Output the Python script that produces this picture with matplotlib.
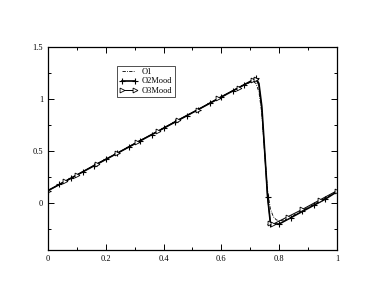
import matplotlib.pyplot as plt
from matplotlib.ticker import MultipleLocator, FormatStrFormatter

plt.rcParams['font.family'] = ['Liberation Serif', 'DejaVu Serif']

# O1 (dash-dot, smoother near the jump)
x_o1 = [0.0, 0.1, 0.2, 0.3, 0.4, 0.5, 0.6, 0.68, 0.70, 0.71, 0.72, 0.73, 0.74, 0.75, 0.76,
        0.77, 0.78, 0.79, 0.80, 0.82, 0.9, 1.0]
y_o1 = [0.12, 0.27, 0.42, 0.57, 0.72, 0.87, 1.02, 1.14, 1.16, 1.17, 1.15, 1.07, 0.86, 0.48,
        0.12, -0.06, -0.13, -0.16, -0.17, -0.16, -0.04, 0.11]

# O2Mood (solid with + markers)
x_o2 = [0.0, 0.04, 0.08, 0.12, 0.16, 0.20, 0.24, 0.28, 0.32, 0.36, 0.40, 0.44, 0.48, 0.52,
        0.56, 0.60, 0.64, 0.68, 0.72, 0.73, 0.74, 0.75, 0.76, 0.77, 0.80, 0.84, 0.88, 0.92,
        0.96, 1.0]
y_o2 = [0.12, 0.18, 0.24, 0.30, 0.36, 0.42, 0.48, 0.54, 0.60, 0.66, 0.72, 0.78, 0.84, 0.90,
        0.96, 1.02, 1.08, 1.14, 1.20, 1.15, 0.93, 0.50, 0.06, -0.20, -0.20, -0.14, -0.08,
        -0.02, 0.04, 0.11]

# O3Mood (thin solid with triangle markers)
x_o3 = [0.0, 0.06, 0.10, 0.17, 0.24, 0.31, 0.38, 0.45, 0.52, 0.59, 0.66, 0.71, 0.72, 0.73,
        0.74, 0.75, 0.76, 0.77, 0.78, 0.83, 0.88, 0.94, 1.0]
y_o3 = [0.12, 0.21, 0.27, 0.38, 0.48, 0.59, 0.69, 0.80, 0.90, 1.01, 1.11, 1.18, 1.19, 1.13,
        0.90, 0.48, 0.05, -0.19, -0.20, -0.13, -0.06, 0.03, 0.12]

# markers are not drawn on the interior points of the jump
o2_marks = [i for i in range(len(x_o2)) if i not in (19, 20, 21)]
o3_marks = [i for i in range(len(x_o3)) if i not in (13, 14, 15, 16)]

fig = plt.figure(figsize=(3.74, 2.89), dpi=100)
ax = fig.add_axes([0.128, 0.135, 0.773, 0.702])

ax.plot(x_o1, y_o1, color='black', lw=0.6, ls=(0, (4, 1.5, 1, 1.5)), label='O1')
ax.plot(x_o2, y_o2, color='black', lw=1.2, marker='+', ms=5, mew=0.8, markevery=o2_marks,
        label='O2Mood')
ax.plot(x_o3, y_o3, color='black', lw=0.7, marker='>', ms=3.5, mew=0.6, mfc='white',
        markevery=o3_marks, label='O3Mood')

ax.set_xlim(0, 1)
ax.set_ylim(-0.45, 1.5)
ax.xaxis.set_major_locator(MultipleLocator(0.2))
ax.xaxis.set_minor_locator(MultipleLocator(0.1))
ax.yaxis.set_major_locator(MultipleLocator(0.5))
ax.yaxis.set_minor_locator(MultipleLocator(0.25))
ax.xaxis.set_major_formatter(FormatStrFormatter('%g'))
ax.yaxis.set_major_formatter(FormatStrFormatter('%g'))
ax.tick_params(which='both', direction='in', top=True, right=True, labelsize=6, width=0.7)
ax.tick_params(which='major', length=4)
ax.tick_params(which='minor', length=2)
for s in ax.spines.values():
    s.set_linewidth(0.9)

leg = ax.legend(loc='upper left', bbox_to_anchor=(0.302, 0.787), bbox_transform=fig.transFigure,
                fontsize=6, numpoints=2, frameon=True, fancybox=False, edgecolor='black',
                handlelength=2.2, borderpad=0.3, labelspacing=0.15, handletextpad=0.5)
leg.get_frame().set_linewidth(0.6)

fig.savefig('out.png', dpi=100)
